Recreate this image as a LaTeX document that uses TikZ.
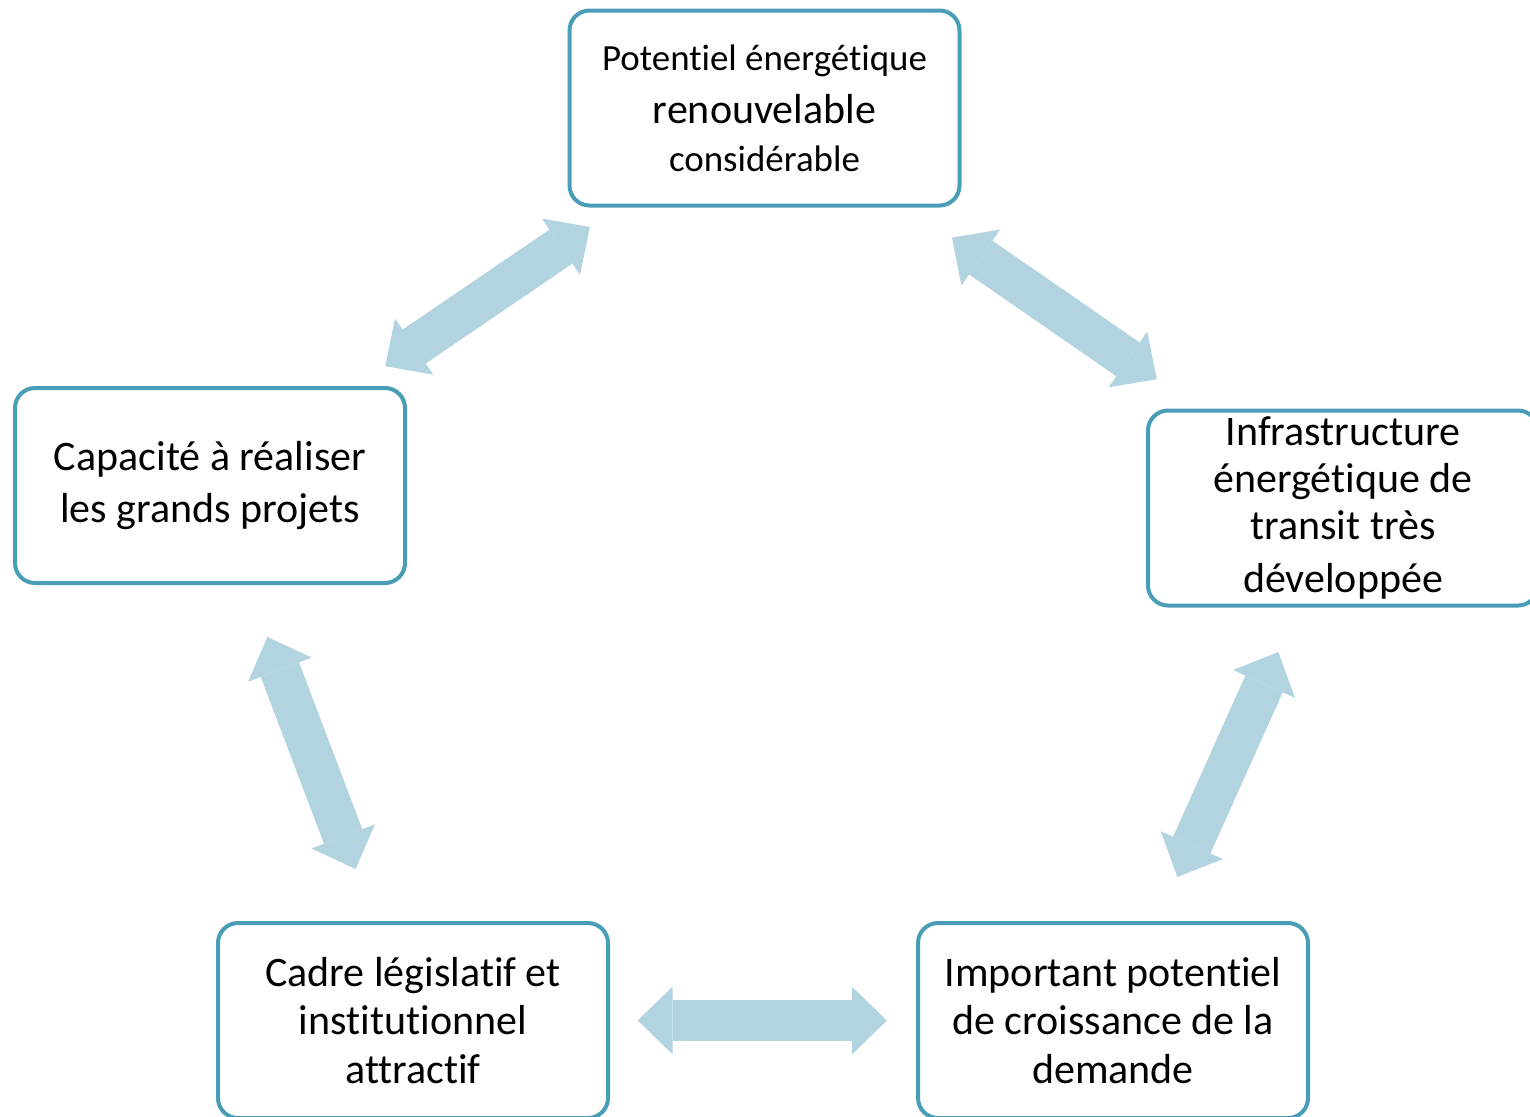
\documentclass[tikz,border=0pt]{standalone}
\usepackage{fontspec}
\setmainfont[Ligatures=NoCommon]{Carlito}
\usetikzlibrary{arrows.meta,calc}
\definecolor{boxline}{RGB}{74,157,182}
\definecolor{arrowfill}{RGB}{177,212,224}
\tikzset{
  bloc/.style={draw=boxline, line width=0.04cm, rounded corners=0.2cm,
    minimum width=3.90cm, minimum height=1.95cm, inner sep=0pt,
    align=center, font=\fontsize{11.95pt}{13.9pt}\selectfont},
  fleche/.style={color=arrowfill, line width=0.41cm,
    {Triangle[width=0.68cm,length=0.35cm,line width=0pt]}-{Triangle[width=0.68cm,length=0.35cm,line width=0pt]}}
}
\begin{document}
\begin{tikzpicture}
\useasboundingbox (0,0) rectangle (15.30,-11.16);
\node[bloc, font=\fontsize{11.95pt}{14.2pt}\selectfont] (potentiel) at (7.645,-1.08)
  {{\fontsize{10.5pt}{12pt}\selectfont Potentiel énergétique}\\[0.9pt]
   renouvelable\\[-0.5pt]
   {\fontsize{10.5pt}{12pt}\selectfont considérable}};
\node[bloc, font=\fontsize{11.95pt}{14.8pt}\selectfont] (capacite) at (2.10,-4.855)
  {Capacité à réaliser\\les grands projets};
\node[bloc, font=\fontsize{11.95pt}{13.3pt}\selectfont] (infra) at (13.43,-5.08)
  {Infrastructure\\énergétique de\\transit très\\[1.7pt]développée};
\node[bloc] (cadre) at (4.13,-10.205)
  {Cadre législatif et\\institutionnel\\attractif};
\node[bloc] (demande) at (11.13,-10.205)
  {Important potentiel\\de croissance de la\\demande};
\draw[fleche] ($(potentiel)!0.315!(capacite)$) -- ($(potentiel)!0.684!(capacite)$);
\draw[fleche] ($(potentiel)!0.324!(infra)$) -- ($(potentiel)!0.678!(infra)$);
\draw[fleche] ($(capacite)!0.283!(cadre)$) -- ($(capacite)!0.717!(cadre)$);
\draw[fleche] ($(infra)!0.281!(demande)$) -- ($(infra)!0.72!(demande)$);
\draw[fleche] ($(cadre)!0.321!(demande)$) -- ($(cadre)!0.677!(demande)$);
\end{tikzpicture}
\end{document}
